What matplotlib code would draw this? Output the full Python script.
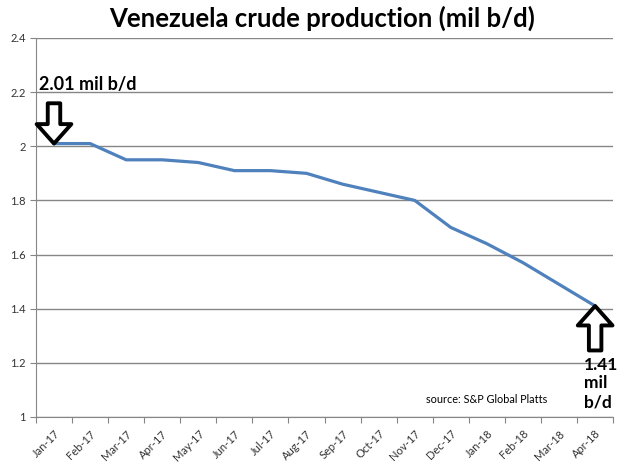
import matplotlib.pyplot as plt

months = ['Jan-17', 'Feb-17', 'Mar-17', 'Apr-17', 'May-17', 'Jun-17', 'Jul-17', 'Aug-17',
          'Sep-17', 'Oct-17', 'Nov-17', 'Dec-17', 'Jan-18', 'Feb-18', 'Mar-18', 'Apr-18']
production = [2.01, 2.01, 1.95, 1.95, 1.94, 1.91, 1.91, 1.90,
              1.86, 1.83, 1.80, 1.70, 1.64, 1.57, 1.49, 1.41]
yticks = [1, 1.2, 1.4, 1.6, 1.8, 2, 2.2, 2.4]

plt.rcParams['font.family'] = ['Lato', 'DejaVu Sans']

fig = plt.figure(figsize=(6.2, 4.73), dpi=100)
ax = fig.add_axes([0.058, 0.1184, 0.931, 0.8013])

x = list(range(len(months)))
ax.plot(x, production, color='#4F81BD', lw=2.3, solid_capstyle='round')

ax.set_xlim(-0.5, len(months) - 0.5)
ax.set_ylim(1, 2.4)
ax.set_yticks(yticks)
ax.set_yticklabels(['1', '1.2', '1.4', '1.6', '1.8', '2', '2.2', '2.4'], fontsize=8)
ax.yaxis.grid(True, color='#868686', lw=1)
ax.set_axisbelow(True)
ax.tick_params(axis='y', length=4, color='#868686', labelcolor='#333333')

# category ticks sit between months
ax.set_xticks([i - 0.5 for i in range(len(months) + 1)], minor=False)
ax.set_xticklabels([''] * (len(months) + 1))
ax.set_xticks(x, minor=True)
ax.set_xticklabels(months, minor=True, rotation=45, ha='right', rotation_mode='anchor',
                   fontsize=8, color='#333333')
ax.tick_params(axis='x', which='major', length=4, color='#868686', direction='out')
ax.tick_params(axis='x', which='minor', length=0, pad=8)

for side in ['top', 'right']:
    ax.spines[side].set_visible(False)
for side in ['left', 'bottom']:
    ax.spines[side].set_color('#868686')

fig.text(0.52, 0.962, 'Venezuela crude production (mil b/d)', ha='center', va='center',
         fontsize=18.5, fontweight='bold')

arrow = dict(arrowstyle='simple,head_length=14,head_width=25,tail_width=9', mutation_scale=1,
             fc='white', ec='black', lw=2.8, shrinkA=0, shrinkB=0)
ax.annotate('', xy=(0, production[0]), xytext=(0, 29), textcoords='offset points',
            arrowprops=arrow)
ax.annotate('', xy=(15, production[-1]), xytext=(0, -32), textcoords='offset points',
            arrowprops=arrow)

ax.text(-0.42, 2.228, '2.01 mil b/d', fontsize=13, fontweight='bold', ha='left', va='center')
ax.text(14.68, 1.222, '1.41\nmil\nb/d', fontsize=12.5, fontweight='bold', ha='left', va='top',
        linespacing=1.2)
ax.text(10.3, 1.065, 'source: S&P Global Platts', fontsize=7.8, ha='left', va='center')

fig.savefig('out.png', dpi=100)
